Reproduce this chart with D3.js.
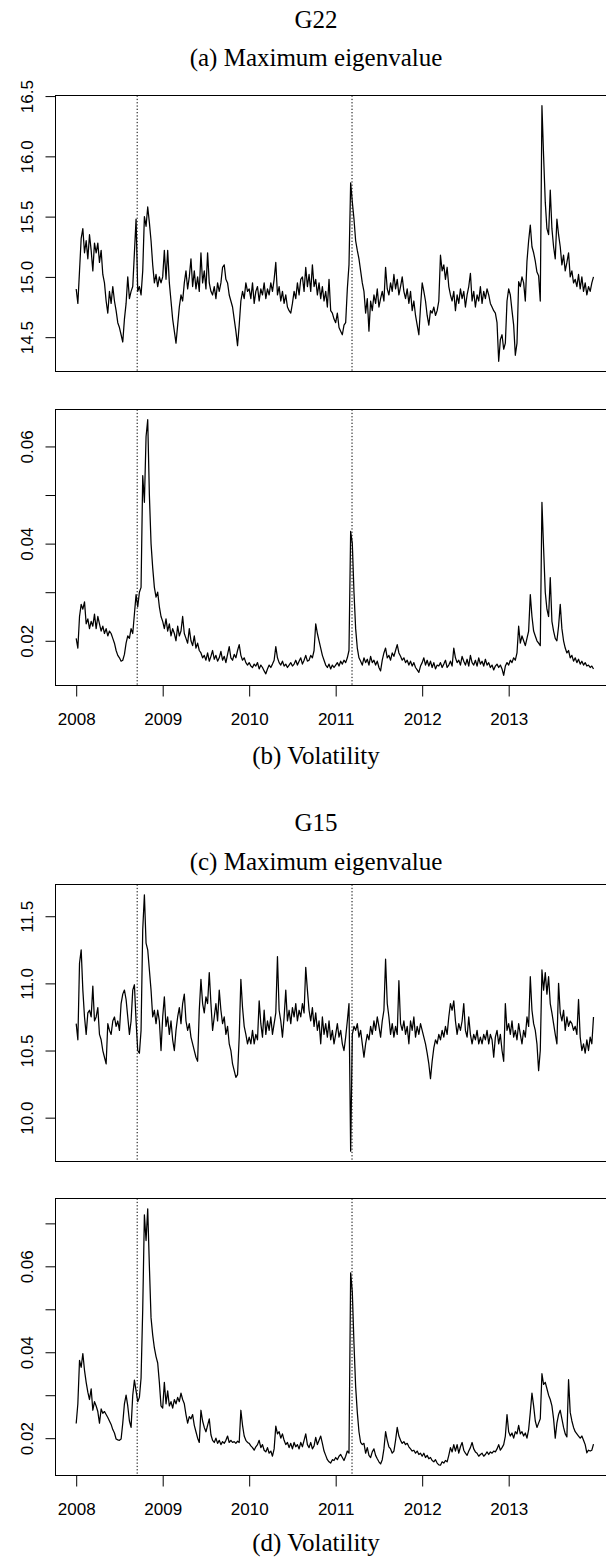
<!DOCTYPE html>
<html>
<head>
<meta charset="utf-8">
<script src="https://cdn.jsdelivr.net/npm/d3@7"></script>
<style>
  html, body { margin: 0; padding: 0; background: #fff; }
  svg { display: block; }
</style>
</head>
<body>
<svg id="fig" width="606" height="1559"></svg>
<script>
// Weekly observations, 52 per year, starting at the beginning of 2008.
const startYear = 2008;
const perYear = 52;

// Event dates (decimal years): Lehman collapse and the Tohoku earthquake.
const eventDates = [2008.705, 2011.189];

const yearTicks = [2008, 2009, 2010, 2011, 2012, 2013];

const groupNames = ["G22", "G15"];
const captions = ["(a) Maximum eigenvalue", "(b) Volatility", "(c) Maximum eigenvalue", "(d) Volatility"];

// G22: maximum eigenvalue
const g22Eigen = [
  // 2008
  14.90,14.78,15.05,15.32,15.40,15.20,15.30,15.15,15.35,15.22, 15.05,15.28,15.20,15.28,15.12,15.22,15.02,14.95,14.80,14.70,
  14.88,14.78,14.92,14.80,14.72,14.62,14.58,14.52,14.46,14.65, 14.78,15.00,14.82,14.88,14.92,15.20,15.48,14.88,14.92,14.85,
  15.05,15.50,15.42,15.58,15.45,15.30,15.10,14.95,15.02,14.92, 15.00,14.95,
  // 2009
  15.00,15.22,14.98,15.22,14.95,14.80,14.65,14.55,14.45,14.60, 14.75,14.85,14.80,14.95,15.05,14.90,15.00,15.15,14.92,15.05,
  14.90,15.00,14.88,15.20,14.95,15.05,14.90,15.20,14.95,14.88, 14.85,14.92,14.82,14.95,14.88,14.95,15.08,15.10,14.98,14.95,
  14.85,14.80,14.75,14.65,14.55,14.43,14.60,14.80,14.88,14.82, 14.95,14.88,
  // 2010
  14.90,14.82,14.95,14.78,14.88,14.92,14.80,14.90,14.85,14.95, 14.82,14.90,14.85,14.95,14.88,14.98,15.12,14.85,14.92,14.80,
  14.88,14.78,14.85,14.75,14.72,14.70,14.78,14.88,14.82,14.95, 14.85,14.98,15.00,14.88,15.08,14.92,15.02,14.88,15.10,14.92,
  14.98,14.85,14.95,14.82,14.92,14.80,14.88,14.75,14.98,14.72, 14.70,14.65,
  // 2011
  14.62,14.70,14.58,14.55,14.52,14.60,14.62,14.90,15.10,15.78, 15.62,15.48,15.30,15.22,15.15,15.05,14.95,14.88,14.70,14.82,
  14.55,14.80,14.72,14.85,14.78,14.90,14.75,14.82,14.88,14.80, 15.08,14.90,14.85,14.95,14.88,15.02,14.90,14.98,14.85,14.92,
  15.00,14.88,14.82,14.90,14.78,14.88,14.72,14.80,14.68,14.60, 14.52,14.75,
  // 2012
  14.95,14.88,14.80,14.68,14.60,14.72,14.70,14.75,14.68,14.72, 14.80,15.18,15.05,15.10,14.98,15.08,14.92,14.85,14.80,14.88,
  14.72,14.85,14.78,14.90,14.82,14.88,14.75,14.85,14.92,15.03, 14.80,14.88,14.75,14.85,14.80,14.92,14.78,14.88,14.82,14.90,
  14.85,14.78,14.75,14.72,14.70,14.62,14.30,14.48,14.52,14.40, 14.45,14.80,
  // 2013
  14.90,14.85,14.72,14.60,14.35,14.45,14.96,14.92,15.00,14.95, 14.80,15.13,15.30,15.43,15.25,15.20,15.13,15.04,15.01,14.80,
  16.42,16.00,15.62,15.40,15.35,15.72,15.40,15.25,15.15,15.48, 15.35,15.25,15.10,15.18,15.05,15.12,15.20,15.00,15.05,14.95,
  14.98,14.92,15.02,14.90,15.00,14.88,14.95,14.85,14.92,14.88, 14.95,15.00
];

// G22: volatility
const g22Vol = [
  // 2008
  0.0205,0.0185,0.0250,0.0275,0.0265,0.0280,0.0235,0.0245,0.0225,0.0240, 0.0230,0.0255,0.0225,0.0250,0.0235,0.0220,0.0230,0.0215,0.0225,0.0210,
  0.0220,0.0215,0.0205,0.0195,0.0180,0.0170,0.0165,0.0158,0.0160,0.0172, 0.0195,0.0210,0.0205,0.0225,0.0215,0.0255,0.0295,0.0270,0.0300,0.0310,
  0.0540,0.0485,0.0620,0.0655,0.0500,0.0400,0.0350,0.0310,0.0290,0.0300, 0.0270,0.0250,
  // 2009
  0.0240,0.0225,0.0245,0.0220,0.0235,0.0210,0.0225,0.0215,0.0200,0.0230, 0.0210,0.0220,0.0250,0.0215,0.0205,0.0195,0.0225,0.0200,0.0190,0.0210,
  0.0185,0.0195,0.0180,0.0175,0.0165,0.0170,0.0160,0.0175,0.0158,0.0168, 0.0180,0.0162,0.0170,0.0158,0.0165,0.0178,0.0160,0.0168,0.0155,0.0172,
  0.0188,0.0165,0.0160,0.0172,0.0165,0.0180,0.0192,0.0170,0.0160,0.0165, 0.0155,0.0150,
  // 2010
  0.0155,0.0148,0.0145,0.0152,0.0148,0.0155,0.0142,0.0150,0.0145,0.0138, 0.0132,0.0142,0.0150,0.0145,0.0152,0.0160,0.0188,0.0165,0.0155,0.0150,
  0.0158,0.0148,0.0152,0.0145,0.0150,0.0155,0.0148,0.0152,0.0160,0.0150, 0.0158,0.0165,0.0152,0.0160,0.0170,0.0158,0.0160,0.0170,0.0165,0.0180,
  0.0235,0.0215,0.0200,0.0185,0.0170,0.0160,0.0150,0.0145,0.0152,0.0142, 0.0150,0.0145,
  // 2011
  0.0150,0.0155,0.0148,0.0158,0.0152,0.0160,0.0155,0.0165,0.0180,0.0425, 0.0400,0.0300,0.0225,0.0185,0.0165,0.0158,0.0150,0.0165,0.0155,0.0162,
  0.0150,0.0168,0.0155,0.0160,0.0150,0.0158,0.0145,0.0138,0.0160,0.0175, 0.0185,0.0165,0.0170,0.0160,0.0175,0.0168,0.0180,0.0192,0.0175,0.0168,
  0.0160,0.0165,0.0155,0.0160,0.0150,0.0158,0.0148,0.0155,0.0145,0.0140, 0.0135,0.0148,
  // 2012
  0.0155,0.0165,0.0150,0.0160,0.0148,0.0158,0.0145,0.0155,0.0142,0.0150, 0.0148,0.0155,0.0145,0.0152,0.0160,0.0145,0.0150,0.0158,0.0148,0.0185,
  0.0165,0.0155,0.0160,0.0150,0.0168,0.0158,0.0150,0.0162,0.0148,0.0170, 0.0155,0.0150,0.0160,0.0148,0.0165,0.0152,0.0158,0.0148,0.0162,0.0150,
  0.0155,0.0145,0.0150,0.0140,0.0148,0.0152,0.0145,0.0150,0.0142,0.0129, 0.0148,0.0155,
  // 2013
  0.0150,0.0160,0.0155,0.0165,0.0160,0.0175,0.0230,0.0195,0.0210,0.0200, 0.0190,0.0205,0.0220,0.0295,0.0250,0.0220,0.0210,0.0200,0.0195,0.0190,
  0.0485,0.0390,0.0300,0.0265,0.0250,0.0330,0.0240,0.0220,0.0205,0.0200, 0.0230,0.0275,0.0225,0.0200,0.0185,0.0175,0.0180,0.0165,0.0170,0.0158,
  0.0165,0.0155,0.0162,0.0152,0.0158,0.0150,0.0155,0.0148,0.0150,0.0145, 0.0148,0.0142
];

// G15: maximum eigenvalue
const g15Eigen = [
  // 2008
  10.70,10.58,11.15,11.25,10.95,10.75,10.62,10.78,10.80,10.75, 10.98,10.72,10.75,10.82,10.62,10.58,10.50,10.45,10.40,10.70,
  10.65,10.62,10.72,10.75,10.68,10.72,10.65,10.85,10.92,10.95, 10.88,10.75,10.62,10.72,10.95,10.99,10.72,10.50,10.48,10.65,
  11.40,11.66,11.30,11.25,11.10,10.95,10.75,10.80,10.70,10.80, 10.72,10.50,
  // 2009
  10.75,10.90,10.68,10.75,10.62,10.72,10.58,10.50,10.65,10.75, 10.82,10.70,10.85,10.92,10.72,10.65,10.70,10.60,10.55,10.50,
  10.45,10.42,10.80,11.03,10.85,10.78,10.90,10.85,11.08,10.85, 10.65,10.75,10.85,10.72,10.95,10.80,10.70,10.75,10.62,10.68,
  10.55,10.50,10.40,10.35,10.30,10.32,10.60,11.03,10.82,10.68, 10.62,10.55,
  // 2010
  10.60,10.55,10.65,10.55,10.62,10.58,10.87,10.70,10.60,10.80, 10.62,10.72,10.65,10.75,10.62,10.70,10.78,11.20,10.80,10.72,
  10.60,10.75,10.95,10.72,10.80,10.70,10.82,10.75,10.85,10.72, 10.80,10.75,10.85,10.78,11.12,10.95,10.80,10.72,10.82,10.68,
  10.78,10.65,10.72,10.55,10.75,10.62,10.70,10.60,10.72,10.58, 10.65,10.55,
  // 2011
  10.62,10.70,10.60,10.65,10.55,10.50,10.60,10.72,10.85,9.75, 10.62,10.68,10.65,10.70,10.60,10.65,10.55,10.45,10.55,10.62,
  10.58,10.68,10.62,10.72,10.65,10.75,10.68,10.60,10.72,10.80, 11.18,10.85,10.75,10.62,10.70,10.60,10.68,10.62,11.02,10.70,
  10.65,10.72,10.62,10.68,10.55,10.72,10.65,10.75,10.60,10.68, 10.62,10.70,
  // 2012
  10.65,10.60,10.55,10.48,10.40,10.29,10.42,10.52,10.58,10.55, 10.62,10.58,10.65,10.60,10.68,10.62,10.75,10.85,10.80,10.87,
  10.72,10.62,10.70,10.65,10.72,10.85,10.65,10.60,10.75,10.62, 10.55,10.62,10.58,10.65,10.55,10.60,10.55,10.62,10.58,10.65,
  10.55,10.62,10.58,10.45,10.60,10.65,10.55,10.62,10.50,10.42, 10.85,10.65,
  // 2013
  10.70,10.62,10.72,10.60,10.65,10.58,10.70,10.62,10.55,10.65, 10.60,10.75,10.68,11.05,10.80,10.70,10.65,10.55,10.35,10.50,
  11.10,10.95,11.08,10.92,11.05,10.85,10.78,10.70,10.62,10.55, 11.00,10.78,10.72,10.80,10.65,10.75,10.68,10.72,10.70,10.65,
  10.68,10.62,10.88,10.60,10.50,10.55,10.48,10.58,10.50,10.60, 10.55,10.75
];

// G15: volatility
const g15Vol = [
  // 2008
  0.0234,0.0280,0.0381,0.0365,0.0397,0.0358,0.0330,0.0307,0.0290,0.0315, 0.0265,0.0285,0.0275,0.0262,0.0235,0.0268,0.0258,0.0262,0.0255,0.0248,
  0.0240,0.0232,0.0220,0.0212,0.0198,0.0196,0.0195,0.0198,0.0235,0.0280, 0.0300,0.0275,0.0240,0.0225,0.0300,0.0335,0.0310,0.0285,0.0295,0.0340,
  0.0500,0.0720,0.0660,0.0734,0.0600,0.0480,0.0440,0.0410,0.0390,0.0375, 0.0330,0.0275,
  // 2009
  0.0270,0.0330,0.0280,0.0310,0.0275,0.0285,0.0270,0.0290,0.0280,0.0295, 0.0285,0.0305,0.0290,0.0280,0.0255,0.0235,0.0250,0.0245,0.0255,0.0230,
  0.0215,0.0200,0.0190,0.0265,0.0240,0.0225,0.0215,0.0230,0.0245,0.0208, 0.0195,0.0190,0.0200,0.0188,0.0195,0.0185,0.0192,0.0188,0.0195,0.0205,
  0.0190,0.0195,0.0190,0.0192,0.0188,0.0193,0.0190,0.0265,0.0230,0.0205, 0.0195,0.0190,
  // 2010
  0.0188,0.0182,0.0178,0.0172,0.0180,0.0185,0.0195,0.0178,0.0185,0.0172, 0.0168,0.0178,0.0165,0.0170,0.0158,0.0175,0.0228,0.0210,0.0215,0.0200,
  0.0210,0.0195,0.0185,0.0190,0.0178,0.0188,0.0175,0.0190,0.0180,0.0185, 0.0175,0.0190,0.0180,0.0195,0.0210,0.0185,0.0178,0.0190,0.0175,0.0182,
  0.0202,0.0185,0.0195,0.0205,0.0188,0.0170,0.0160,0.0150,0.0145,0.0142, 0.0150,0.0148,
  // 2011
  0.0155,0.0150,0.0158,0.0162,0.0155,0.0148,0.0158,0.0170,0.0165,0.0585, 0.0540,0.0420,0.0320,0.0260,0.0215,0.0190,0.0185,0.0188,0.0165,0.0178,
  0.0160,0.0155,0.0168,0.0175,0.0160,0.0152,0.0145,0.0140,0.0150,0.0175, 0.0215,0.0195,0.0180,0.0175,0.0165,0.0170,0.0195,0.0225,0.0205,0.0195,
  0.0188,0.0192,0.0185,0.0188,0.0180,0.0175,0.0170,0.0172,0.0165,0.0170, 0.0162,0.0165,
  // 2012
  0.0158,0.0165,0.0155,0.0160,0.0152,0.0155,0.0148,0.0145,0.0150,0.0142, 0.0138,0.0137,0.0145,0.0142,0.0148,0.0145,0.0160,0.0178,0.0168,0.0185,
  0.0170,0.0185,0.0165,0.0180,0.0190,0.0172,0.0165,0.0160,0.0170,0.0178, 0.0190,0.0175,0.0168,0.0165,0.0158,0.0162,0.0165,0.0158,0.0162,0.0168,
  0.0162,0.0168,0.0165,0.0170,0.0168,0.0175,0.0185,0.0172,0.0178,0.0185, 0.0205,0.0255,
  // 2013
  0.0215,0.0205,0.0212,0.0200,0.0215,0.0210,0.0230,0.0210,0.0215,0.0205, 0.0212,0.0200,0.0220,0.0260,0.0305,0.0275,0.0240,0.0225,0.0235,0.0245,
  0.0350,0.0325,0.0330,0.0315,0.0300,0.0290,0.0275,0.0245,0.0200,0.0235, 0.0255,0.0265,0.0245,0.0225,0.0210,0.0203,0.0336,0.0260,0.0240,0.0225,
  0.0215,0.0210,0.0205,0.0200,0.0205,0.0195,0.0185,0.0166,0.0172,0.0170, 0.0172,0.0186
];

const eigenTicks15 = [10.0, 10.5, 11.0, 11.5];
const eigenTicks22 = [14.5, 15.0, 15.5, 16.0, 16.5];
const volTicks22 = [0.02, 0.03, 0.04, 0.05, 0.06];
const volTicks15 = [0.02, 0.03, 0.04, 0.05, 0.06, 0.07];
const volLabelled = [0.02, 0.04, 0.06];

// ---- layout ----
const svg = d3.select("#fig");
const plotLeft = 55.5, plotRight = 614.2;
const sansFont = "'Liberation Sans', Arial, Helvetica, sans-serif";
const serifFont = "'Liberation Serif', 'Times New Roman', serif";

const panels = [
  { values: g22Eigen, top: 95.5,  bottom: 371.5,  ticks: eigenTicks22, fmt: d => d.toFixed(1), xAxis: false },
  { values: g22Vol,   top: 409.5, bottom: 685.5,  ticks: volTicks22,   fmt: d => volLabelled.some(v => Math.abs(v - d) < 1e-9) ? d.toFixed(2) : "", xAxis: true },
  { values: g15Eigen, top: 884.5, bottom: 1161.5, ticks: eigenTicks15, fmt: d => d.toFixed(1), xAxis: false },
  { values: g15Vol,   top: 1198.5, bottom: 1475.5, ticks: volTicks15,  fmt: d => volLabelled.some(v => Math.abs(v - d) < 1e-9) ? d.toFixed(2) : "", xAxis: true }
];

const textItems = [
  { text: groupNames[0], y: 28.3 },
  { text: captions[0],   y: 65.5 },
  { text: captions[1],   y: 763.5 },
  { text: groupNames[1], y: 830.7 },
  { text: captions[2],   y: 870.0 },
  { text: captions[3],   y: 1551.0 }
];

svg.selectAll("text.title")
  .data(textItems)
  .enter().append("text")
  .attr("class", "title")
  .attr("x", 316)
  .attr("y", d => d.y)
  .attr("text-anchor", "middle")
  .style("font-family", serifFont)
  .style("font-size", "25px")
  .attr("fill", "#000")
  .text(d => d.text);

panels.forEach(p => {
  const n = p.values.length;
  const times = d3.range(n).map(i => startYear + i / perYear);
  const tMin = times[0], tMax = times[n - 1];
  const tPad = 0.04 * (tMax - tMin);
  const x = d3.scaleLinear().domain([tMin - tPad, tMax + tPad]).range([plotLeft, plotRight]);

  const [vMin, vMax] = d3.extent(p.values);
  const vPad = 0.04 * (vMax - vMin);
  const y = d3.scaleLinear().domain([vMin - vPad, vMax + vPad]).range([p.bottom, p.top]);

  const g = svg.append("g");

  // event markers
  g.selectAll("line.event")
    .data(eventDates)
    .enter().append("line")
    .attr("x1", d => x(d)).attr("x2", d => x(d))
    .attr("y1", p.top).attr("y2", p.bottom)
    .attr("stroke", "#000")
    .attr("stroke-width", 1)
    .attr("stroke-dasharray", "1.3,2");

  // series
  const line = d3.line()
    .x((d, i) => x(times[i]))
    .y(d => y(d));
  g.append("path")
    .datum(p.values)
    .attr("d", line)
    .attr("fill", "none")
    .attr("stroke", "#000")
    .attr("stroke-width", 1.25)
    .attr("stroke-linejoin", "round");

  // frame
  g.append("rect")
    .attr("x", plotLeft).attr("y", p.top)
    .attr("width", plotRight - plotLeft).attr("height", p.bottom - p.top)
    .attr("fill", "none").attr("stroke", "#000").attr("stroke-width", 1);

  // left axis
  const yAxis = d3.axisLeft(y).tickValues(p.ticks).tickSize(10).tickFormat(p.fmt);
  const ya = g.append("g").attr("transform", `translate(${plotLeft},0)`).call(yAxis);
  ya.select(".domain").remove();
  ya.selectAll(".tick line").attr("stroke", "#000");
  ya.selectAll(".tick text")
    .attr("transform", "rotate(-90)")
    .attr("x", 0).attr("y", -23).attr("dy", 0)
    .attr("text-anchor", "middle")
    .attr("fill", "#000")
    .style("font-family", sansFont)
    .style("font-size", "17px");

  // bottom axis
  if (p.xAxis) {
    const xAxis = d3.axisBottom(x).tickValues(yearTicks).tickSize(11).tickFormat(d3.format("d"));
    const xa = g.append("g").attr("transform", `translate(0,${p.bottom})`).call(xAxis);
    xa.select(".domain").remove();
    xa.selectAll(".tick line").attr("stroke", "#000");
    xa.selectAll(".tick text")
      .attr("y", 39.7).attr("dy", 0)
      .attr("fill", "#000")
      .style("font-family", sansFont)
      .style("font-size", "17px");
  }
});
</script>
</body>
</html>
